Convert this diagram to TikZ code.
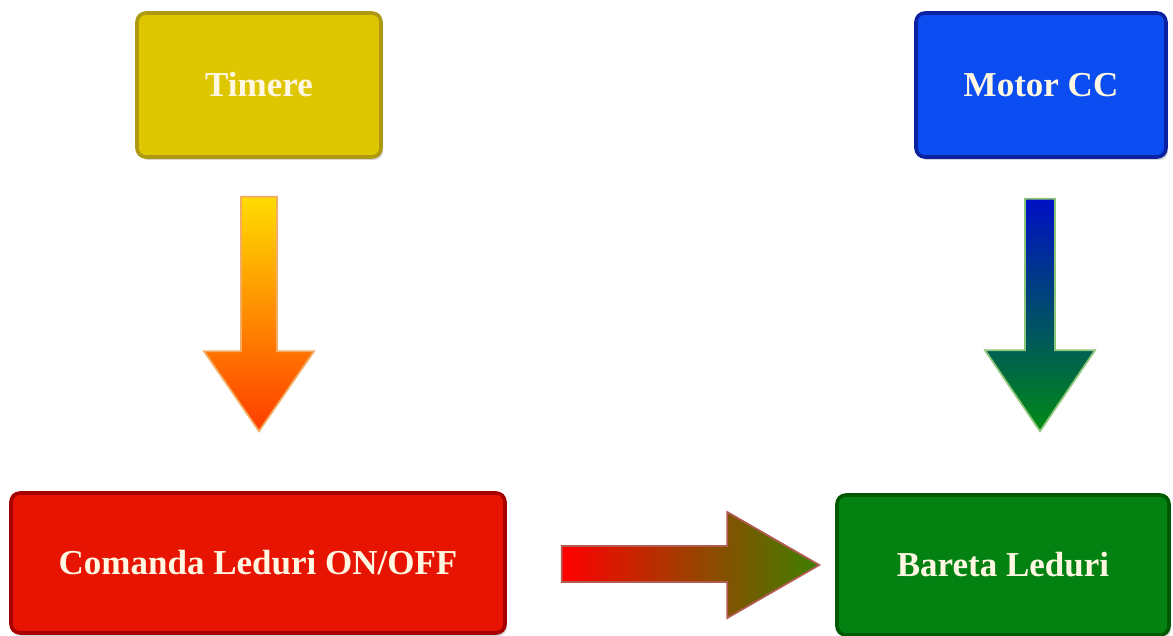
\documentclass[tikz,border=0pt]{standalone}
\usepackage{fontspec}
\setmainfont{Liberation Serif}
\usetikzlibrary{calc,shadows}
\definecolor{yfill}{HTML}{DEC600}
\definecolor{ydraw}{HTML}{AE9A12}
\definecolor{bfill}{HTML}{0B4DF0}
\definecolor{bdraw}{HTML}{0A22A2}
\definecolor{rfill}{HTML}{E61400}
\definecolor{rdraw}{HTML}{A60000}
\definecolor{gfill}{HTML}{038212}
\definecolor{gdraw}{HTML}{005800}
\definecolor{txt}{HTML}{FFF7E2}
\tikzset{
  blockbox/.style={rectangle, rounded corners=9pt, line width=3.6pt, inner sep=0pt,
    text=txt, font=\bfseries\fontsize{35}{38}\selectfont,
    drop shadow={opacity=0.35, shadow xshift=2pt, shadow yshift=-3pt}},
  bigarrow/.style={line width=1.8pt, line join=miter}
}
\begin{document}
\begin{tikzpicture}[x=1pt,y=-1pt]
\useasboundingbox (0,0) rectangle (1173,636);
% boxes
\node[blockbox, fill=yfill, draw=ydraw, minimum width=244pt, minimum height=144pt] (timere) at (259,85) {Timere};
\node[blockbox, fill=bfill, draw=bdraw, minimum width=250pt, minimum height=144pt] (motor) at (1041,85) {Motor CC};
\node[blockbox, fill=rfill, draw=rdraw, minimum width=494pt, minimum height=140pt] (comanda) at (258,563) {Comanda Leduri ON/OFF};
\node[blockbox, fill=gfill, draw=gdraw, minimum width=332pt, minimum height=140pt] (bareta) at (1003,565) {Bareta Leduri};
% left down arrow: Timere -> Comanda
\coordinate (s1) at ($(timere.south)+(0,38)$);
\coordinate (e1) at ($(s1 |- comanda.north)+(0,-60)$);
\shadedraw[bigarrow, draw={rgb,255:red,242;green,172;blue,100},
  top color={rgb,255:red,255;green,220;blue,0}, middle color={rgb,255:red,255;green,150;blue,0}, bottom color={rgb,255:red,255;green,60;blue,0}]
  ($(s1)+(-18,0)$) -- ($(s1)+(18,0)$) -- ($(e1)+(18,-80)$) -- ($(e1)+(55,-80)$) -- (e1)
  -- ($(e1)+(-55,-80)$) -- ($(e1)+(-18,-80)$) -- cycle;
% right down arrow: Motor -> Bareta
\coordinate (s2) at ($(motor.south)+(-1,40)$);
\coordinate (e2) at ($(s2 |- bareta.north)+(0,-62)$);
\shadedraw[bigarrow, draw={rgb,255:red,140;green,196;blue,120},
  top color={rgb,255:red,0;green,16;blue,196}, middle color={rgb,255:red,10;green,70;blue,130}, bottom color={rgb,255:red,0;green,138;blue,20}]
  ($(s2)+(-15,0)$) -- ($(s2)+(15,0)$) -- ($(e2)+(15,-81)$) -- ($(e2)+(55,-81)$) -- (e2)
  -- ($(e2)+(-55,-81)$) -- ($(e2)+(-15,-81)$) -- cycle;
% horizontal arrow: Comanda -> Bareta
\coordinate (s3) at ($(comanda.east)+(55,1)$);
\coordinate (e3) at ($(bareta.west)+(-16,0)$);
\shadedraw[bigarrow, draw={rgb,255:red,176;green,90;blue,80},
  left color={rgb,255:red,255;green,0;blue,0}, right color={rgb,255:red,60;green,128;blue,0}]
  ($(s3)+(0,-18)$) -- ($(s3 -| e3)+(-92,-18)$) -- ($(e3)+(-92,-53)$) -- (e3)
  -- ($(e3)+(-92,53)$) -- ($(s3 -| e3)+(-92,18)$) -- ($(s3)+(0,18)$) -- cycle;
\end{tikzpicture}
\end{document}
